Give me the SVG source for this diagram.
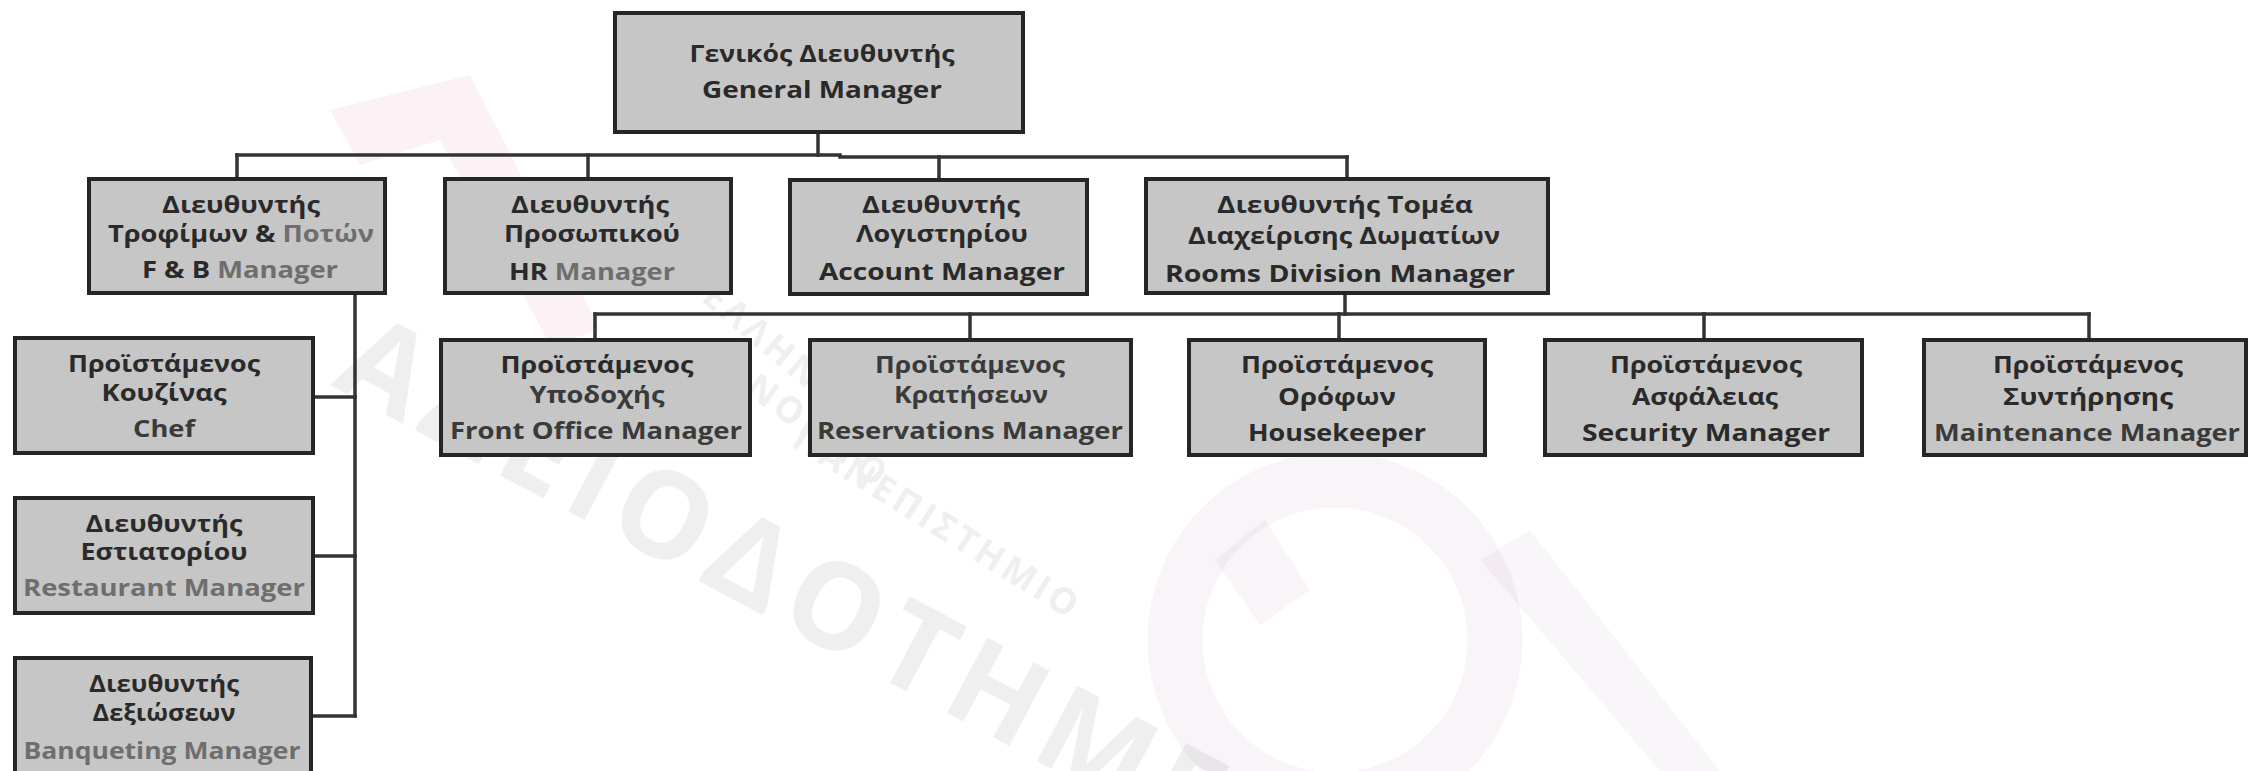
<svg xmlns="http://www.w3.org/2000/svg" width="2262" height="771" viewBox="0 0 2262 771">
  <style>
    .box { fill: #c6c6c6; stroke: #262626; stroke-width: 4; }
    .lbl { font-family: "Open Sans", "Noto Sans", "DejaVu Sans", sans-serif; font-weight: 700; font-size: 24px; fill: #2a2a2a; text-anchor: middle; }
    .soft { fill: #6e6e6e; }
    .mid { fill: #3a3a3a; }
    .wire { fill: none; stroke: #333333; stroke-width: 3.5; stroke-linecap: square; }
    .wm { font-family: "Open Sans", "Noto Sans", sans-serif; font-weight: 700; fill: #9a9a9a; }
  </style>
  <rect x="0" y="0" width="2262" height="771" fill="#ffffff"/>

  <!-- faint publisher watermark, behind the chart -->
  <g id="watermark">
    <path d="M330 110 L470 75 L600 330 L550 345 L440 140 L360 165 Z" fill="#e0608a" opacity="0.09"/>
    <circle cx="1335" cy="640" r="160" fill="none" stroke="#b080b0" stroke-width="55" opacity="0.09"/>
    <path d="M1215 560 L1265 520 L1310 590 L1260 625 Z" fill="#b080b0" opacity="0.09"/>
    <path d="M1480 560 L1530 530 L1720 771 L1660 771 Z" fill="#b080b0" opacity="0.07"/>
    <g opacity="0.15">
      <text class="wm" font-size="120" letter-spacing="10" transform="translate(330 385) rotate(28)">ΑΔΕΙΟΔΟΤΗΜΕΝΟ</text>
      <text class="wm" font-size="36" letter-spacing="4" transform="translate(700 300) rotate(40)">ΕΛΛΗΝΙΚΟ</text>
      <text class="wm" font-size="36" letter-spacing="4" transform="translate(720 375) rotate(36)">ΑΝΟΙΚΤΟ</text>
      <text class="wm" font-size="36" letter-spacing="4" transform="translate(790 445) rotate(32)">ΠΑΝΕΠΙΣΤΗΜΙΟ</text>
    </g>
  </g>

  <!-- connectors -->
  <g id="connectors" class="wire">
    <path d="M818 132 V155"/>
    <path d="M237 155 H840 V157 H1347"/>
    <path d="M237 155 V179"/>
    <path d="M588 155 V179"/>
    <path d="M939 157 V180"/>
    <path d="M1347 157 V179"/>
    <path d="M1345 293 V314"/>
    <path d="M595 314 H2089"/>
    <path d="M595 314 V340"/>
    <path d="M970 314 V340"/>
    <path d="M1339 314 V340"/>
    <path d="M1704 314 V340"/>
    <path d="M2089 314 V340"/>
    <path d="M355 293 V716"/>
    <path d="M313 397 H355"/>
    <path d="M313 556 H355"/>
    <path d="M311 716 H355"/>
  </g>

  <!-- top -->
  <g id="general-manager">
    <rect class="box" x="615" y="13" width="408" height="119"/>
    <text class="lbl" x="822" y="62" textLength="265" lengthAdjust="spacingAndGlyphs">Γενικός Διευθυντής</text>
    <text class="lbl" x="822" y="98" textLength="240" lengthAdjust="spacingAndGlyphs">General Manager</text>
  </g>

  <!-- directors -->
  <g id="fb-manager">
    <rect class="box" x="89" y="179" width="296" height="114"/>
    <text class="lbl" x="241" y="213" textLength="158" lengthAdjust="spacingAndGlyphs">Διευθυντής</text>
    <text class="lbl" x="241" y="242" textLength="266" lengthAdjust="spacingAndGlyphs">Τροφίμων &amp; <tspan class="soft">Ποτών</tspan></text>
    <text class="lbl" x="240" y="278" textLength="196" lengthAdjust="spacingAndGlyphs">F &amp; B <tspan class="soft">Manager</tspan></text>
  </g>
  <g id="hr-manager">
    <rect class="box" x="445" y="179" width="286" height="114"/>
    <text class="lbl" x="590" y="213" textLength="158" lengthAdjust="spacingAndGlyphs">Διευθυντής</text>
    <text class="lbl" x="592" y="242" textLength="176" lengthAdjust="spacingAndGlyphs">Προσωπικού</text>
    <text class="lbl" x="592" y="280" textLength="166" lengthAdjust="spacingAndGlyphs">HR <tspan class="soft">Manager</tspan></text>
  </g>
  <g id="account-manager">
    <rect class="box" x="790" y="180" width="297" height="114"/>
    <text class="lbl" x="941" y="213" textLength="158" lengthAdjust="spacingAndGlyphs">Διευθυντής</text>
    <text class="lbl" x="942" y="242" textLength="172" lengthAdjust="spacingAndGlyphs">Λογιστηρίου</text>
    <text class="lbl" x="942" y="280" textLength="246" lengthAdjust="spacingAndGlyphs">Account Manager</text>
  </g>
  <g id="rooms-division-manager">
    <rect class="box" x="1146" y="179" width="402" height="114"/>
    <text class="lbl" x="1345" y="213" textLength="256" lengthAdjust="spacingAndGlyphs">Διευθυντής  Τομέα</text>
    <text class="lbl" x="1344" y="244" textLength="312" lengthAdjust="spacingAndGlyphs">Διαχείρισης Δωματίων</text>
    <text class="lbl" x="1340" y="282" textLength="350" lengthAdjust="spacingAndGlyphs">Rooms Division Manager</text>
  </g>

  <!-- food and beverage column -->
  <g id="chef">
    <rect class="box" x="15" y="338" width="298" height="115"/>
    <text class="lbl" x="164" y="372" textLength="192" lengthAdjust="spacingAndGlyphs">Προϊστάμενος</text>
    <text class="lbl" x="164" y="401" textLength="125" lengthAdjust="spacingAndGlyphs">Κουζίνας</text>
    <text class="lbl mid" x="164" y="437" textLength="62" lengthAdjust="spacingAndGlyphs">Chef</text>
  </g>
  <g id="restaurant-manager">
    <rect class="box" x="15" y="498" width="298" height="115"/>
    <text class="lbl" x="164" y="532" textLength="157" lengthAdjust="spacingAndGlyphs">Διευθυντής</text>
    <text class="lbl" x="164" y="560" textLength="167" lengthAdjust="spacingAndGlyphs">Εστιατορίου</text>
    <text class="lbl soft" x="164" y="596" textLength="282" lengthAdjust="spacingAndGlyphs">Restaurant Manager</text>
  </g>
  <g id="banqueting-manager">
    <rect class="box" x="15" y="658" width="296" height="118"/>
    <text class="lbl" x="164" y="692" textLength="150" lengthAdjust="spacingAndGlyphs">Διευθυντής</text>
    <text class="lbl" x="164" y="721" textLength="143" lengthAdjust="spacingAndGlyphs">Δεξιώσεων</text>
    <text class="lbl soft" x="162" y="759" textLength="277" lengthAdjust="spacingAndGlyphs">Banqueting Manager</text>
  </g>

  <!-- rooms division row -->
  <g id="front-office-manager">
    <rect class="box" x="441" y="340" width="309" height="115"/>
    <text class="lbl" x="597" y="373" textLength="193" lengthAdjust="spacingAndGlyphs">Προϊστάμενος</text>
    <text class="lbl mid" x="597" y="403" textLength="135" lengthAdjust="spacingAndGlyphs">Υποδοχής</text>
    <text class="lbl mid" x="596" y="439" textLength="292" lengthAdjust="spacingAndGlyphs">Front Office Manager</text>
  </g>
  <g id="reservations-manager">
    <rect class="box" x="810" y="340" width="321" height="115"/>
    <text class="lbl mid" x="970" y="373" textLength="190" lengthAdjust="spacingAndGlyphs">Προϊστάμενος</text>
    <text class="lbl mid" x="971" y="403" textLength="154" lengthAdjust="spacingAndGlyphs">Κρατήσεων</text>
    <text class="lbl mid" x="970" y="439" textLength="306" lengthAdjust="spacingAndGlyphs">Reservations Manager</text>
  </g>
  <g id="housekeeper">
    <rect class="box" x="1189" y="340" width="296" height="115"/>
    <text class="lbl" x="1337" y="373" textLength="192" lengthAdjust="spacingAndGlyphs">Προϊστάμενος</text>
    <text class="lbl" x="1337" y="405" textLength="118" lengthAdjust="spacingAndGlyphs">Ορόφων</text>
    <text class="lbl" x="1337" y="441" textLength="178" lengthAdjust="spacingAndGlyphs">Housekeeper</text>
  </g>
  <g id="security-manager">
    <rect class="box" x="1545" y="340" width="317" height="115"/>
    <text class="lbl" x="1706" y="373" textLength="192" lengthAdjust="spacingAndGlyphs">Προϊστάμενος</text>
    <text class="lbl" x="1705" y="405" textLength="146" lengthAdjust="spacingAndGlyphs">Ασφάλειας</text>
    <text class="lbl" x="1706" y="441" textLength="248" lengthAdjust="spacingAndGlyphs">Security Manager</text>
  </g>
  <g id="maintenance-manager">
    <rect class="box" x="1924" y="340" width="322" height="115"/>
    <text class="lbl" x="2088" y="373" textLength="190" lengthAdjust="spacingAndGlyphs">Προϊστάμενος</text>
    <text class="lbl" x="2088" y="405" textLength="170" lengthAdjust="spacingAndGlyphs">Συντήρησης</text>
    <text class="lbl mid" x="2087" y="441" textLength="306" lengthAdjust="spacingAndGlyphs">Maintenance Manager</text>
  </g>
</svg>
